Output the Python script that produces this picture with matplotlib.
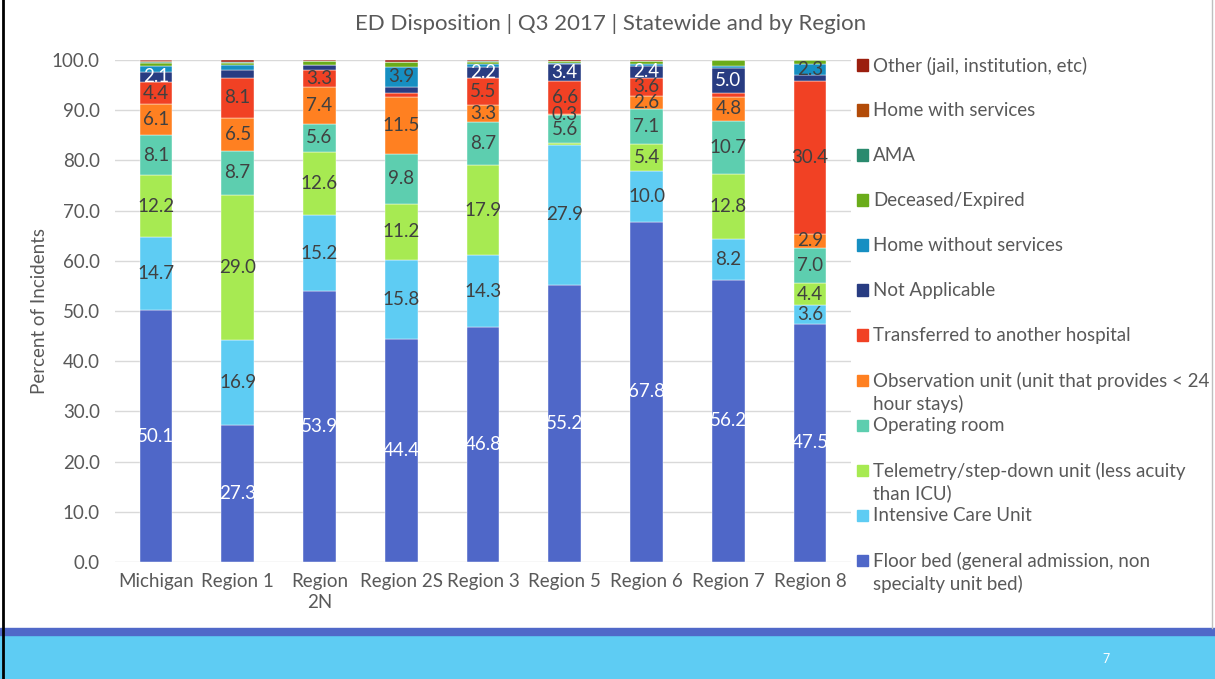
import matplotlib.pyplot as plt
from matplotlib.patches import Rectangle
from matplotlib.lines import Line2D

plt.rcParams['font.family'] = ['Lato', 'DejaVu Sans']

regions = ['Michigan', 'Region 1', 'Region\n2N', 'Region 2S', 'Region 3',
           'Region 5', 'Region 6', 'Region 7', 'Region 8']

# series, bottom to top
floor_bed = [50.1, 27.3, 53.9, 44.4, 46.8, 55.2, 67.8, 56.2, 47.5]
icu = [14.7, 16.9, 15.2, 15.8, 14.3, 27.9, 10.0, 8.2, 3.6]
telemetry = [12.2, 29.0, 12.6, 11.2, 17.9, 0.3, 5.4, 12.8, 4.4]
operating_room = [8.1, 8.7, 5.6, 9.8, 8.7, 5.6, 7.1, 10.7, 7.0]
observation = [6.1, 6.5, 7.4, 11.5, 3.3, 0.3, 2.6, 4.8, 2.9]
transferred = [4.4, 8.1, 3.3, 0.7, 5.5, 6.6, 3.6, 0.8, 30.4]
not_applicable = [2.1, 1.5, 1.0, 1.3, 2.2, 3.4, 2.4, 5.0, 1.2]
home_without = [1.2, 1.0, 0.1, 3.9, 0.6, 0.2, 0.3, 0.4, 2.3]
deceased = [0.6, 0.4, 0.8, 1.1, 0.4, 0.4, 0.6, 1.1, 0.7]
ama = [0.2, 0.2, 0.0, 0.0, 0.2, 0.0, 0.1, 0.0, 0.0]
home_with = [0.1, 0.1, 0.0, 0.0, 0.0, 0.0, 0.0, 0.0, 0.0]
other = [0.2, 0.3, 0.1, 0.3, 0.1, 0.2, 0.1, 0.0, 0.0]

series_names = [
    'Floor bed (general admission, non\nspecialty unit bed)',
    'Intensive Care Unit',
    'Telemetry/step-down unit (less acuity\nthan ICU)',
    'Operating room',
    'Observation unit (unit that provides < 24\nhour stays)',
    'Transferred to another hospital',
    'Not Applicable',
    'Home without services',
    'Deceased/Expired',
    'AMA',
    'Home with services',
    'Other (jail, institution, etc)',
]
series_values = [floor_bed, icu, telemetry, operating_room, observation, transferred,
                 not_applicable, home_without, deceased, ama, home_with, other]
colors = ['#4F67C8', '#5ECCF3', '#A7EA52', '#5DCEAF', '#FF8021', '#F14124',
          '#283C82', '#168FC2', '#6AAC1A', '#2A8A6E', '#B24B08', '#9B1E0E']
label_colors = ['white', '#404040', '#404040', '#404040', '#404040', '#404040',
                'white', '#404040', '#404040', '#404040', '#404040', '#404040']
extra_labels = {(4, 5)}  # (series index, region index) labelled despite small value

gray = '#595959'
fs = 13.5
fig = plt.figure(figsize=(12.15, 6.79), dpi=100)
W, H = 1215, 679

# slide background pieces
fig.patches.append(Rectangle((0, 0), 1, 44 / H, transform=fig.transFigure,
                             color='#5ECCF3', zorder=0))
fig.patches.append(Rectangle((0, 44 / H), 1, 7 / H, transform=fig.transFigure,
                             color='#5068C8', zorder=0))
fig.lines.append(Line2D([2.5 / W, 2.5 / W], [0, 1], transform=fig.transFigure,
                        color='black', lw=2))
fig.lines.append(Line2D([1212 / W, 1212 / W], [51 / H, 1], transform=fig.transFigure,
                        color='#BFBFBF', lw=1))
fig.text(1106 / W, 1 - 659 / H, '7', color='white', fontsize=9, ha='center', va='center')

ax = fig.add_axes([115 / W, 1 - 562 / H, (851 - 115) / W, (562 - 60) / H])
x = list(range(len(regions)))
bottom = [0.0] * len(regions)
for si, vals in enumerate(series_values):
    ax.bar(x, vals, width=0.4, bottom=bottom, color=colors[si], zorder=2,
           edgecolor='white', linewidth=0.3)
    for ri, v in enumerate(vals):
        if v >= 2.0 or (si, ri) in extra_labels:
            ax.text(ri, bottom[ri] + v / 2, f'{v:.1f}', ha='center', va='center',
                    fontsize=fs, color=label_colors[si], zorder=3)
    bottom = [b + v for b, v in zip(bottom, vals)]

ax.set_xlim(-0.5, 8.5)
ax.set_ylim(0, 100)
ax.set_yticks(range(0, 101, 10))
ax.set_yticklabels([f'{t:.1f}' for t in range(0, 101, 10)])
ax.set_xticks(x)
ax.set_xticklabels(regions, linespacing=1.3)
ax.tick_params(axis='both', length=0, labelsize=fs, labelcolor=gray)
ax.tick_params(axis='x', pad=8)
ax.tick_params(axis='y', pad=11)
ax.grid(axis='y', color='#D9D9D9', lw=1, zorder=0)
for s in ax.spines.values():
    s.set_visible(False)
ax.set_ylabel('Percent of Incidents', fontsize=fs, color=gray, labelpad=3)

fig.text(611 / W, 1 - 24 / H, 'ED Disposition | Q3 2017 | Statewide and by Region',
         ha='center', va='center', fontsize=16, color=gray)

# legend, top entry first, fixed slot height
top_y, step = 65, 45
for i, si in enumerate(reversed(range(len(series_names)))):
    yc = top_y + i * step
    fig.patches.append(Rectangle((857 / W, 1 - (yc + 5.5) / H), 11 / W, 11 / H,
                                 transform=fig.transFigure, color=colors[si]))
    fig.text(873 / W, 1 - (yc - 8) / H, series_names[si], ha='left', va='top',
             fontsize=fs, color=gray, linespacing=1.3)

fig.savefig('out.png', dpi=100)
